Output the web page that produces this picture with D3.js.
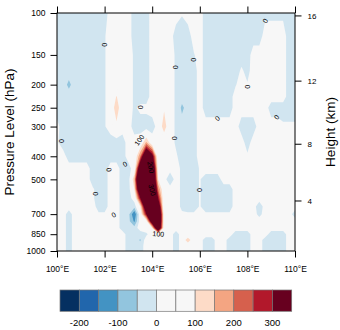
<!DOCTYPE html>
<html>
<head>
<meta charset="utf-8">
<script src="https://cdn.jsdelivr.net/npm/d3@7"></script>
<style>
  html, body { margin: 0; padding: 0; background: #fff; }
  svg { display: block; font-family: "Liberation Sans", Arial, Helvetica, sans-serif; }
</style>
</head>
<body>
<div id="chart"></div>
<script>
// pressure levels of the grid rows (top to bottom) and the longitude span of its columns
const levels = [100, 125, 150, 175, 200, 225, 250, 300, 350, 400, 450, 500, 550, 600, 650, 700, 750, 800, 850, 900, 950, 1000];
const lonStart = 100, lonEnd = 110; // 41 columns, 0.25 deg apart

// field values, one row per level
const field = [
  [-30,-30,-30,-30,-30,-30,-30,-30,-30, 30,30,30,30, -30,-30,-30, 30,30,30,30,30, 5, 30,30,30, -30,-30,-30,-30,-30,-30,-30,-30,-30,-30, -15,-15,-15,-15,-15, -30],
  [-30,-30,-30,-30,-30,-30,-30,-30, -5, 30,30,30,30, -30,-30,-30, 30,30,30,30, -30,-30,-30, 30,30, -30,-30,-30,-30,-30,-30,-30,-30,-30,-30, 30,30,30,30, -30,-30],
  [-30,-30,-30,-30,-30,-30,-30,-30, -5, 30,30,30,30, -10,-30,-30, 30,30,30,30, -10,-30,-30, -5, 30, -30,-30,-30,-30,-30,-30,-30,-30, 30,30,30,30,30,30, -30,-30],
  [-30,-30,-30,-30,-30,-30,-30,-30, -5, 30,30,30,30, -10,-30,-30, 30,30,30,30, -10,-30,-30,-30, 30, -30,-30,-30,-30,-30,-30, 10, -20, 30,30,30,30,30,30, -30,-30],
  [-30,-30, -60, -30,-30,-30,-30,-30, -5, 30,30,30,30, -10,-30,-30, 30,30,30,30, -10,-30,-30,-30, 30, -30,-30,-30,-30,-30, -5, 30, 5, 30,30,30,30,30,30, -30,-30],
  [-30,-30,-30,-30,-30,-30,-30,-30, -5, 30, 105, 30,30, -10,-30,-30, 30,30,30,30, -10,-30,-30,-30, 30, -30,-30,-30,-30,-30, 30,30,30,30,30,30,30,30,30, -30,-30],
  [-30,-30,-30,-30,-30,-30,-30,-30, -5, 30, 150, 30,30, -10, 15,15, 30,30, 90, 30, -10, -60, -30,-30, 30, -30,-30,-30,-30,-30, 30,30,30,30,30,30, -30,-30,-30,-30,-30],
  [20, -30,-30,-30,-30,-30,-30,-30, -5, 30, 80, 30,30, -30,-30,-30,-30, 30, 140, 30, -10,-30,-30,-30, 30, 30,30,30,30,30,30, -30,-30,-30, 30,30,30,30, 10,10,10],
  [10, -30,-30,-30,-30,-30,-30,-30,-30,-30,-30,-30, 30,30, 40, 160, 40, 30,30,30, -10,-30,-30,-30, 30,30,30,30,30,30,30,30, -30, 30,30,30,30,30,30,30,30],
  [30,30, -30,-30,-30,-30,-30,-30,-30,-30,-30,-30, 30,30, 200, 500, 350, 30,30,30, 10, -30,-30,-30, 30,30,30,30,30,30,30,30, 10, 30,30,30,30,30,30,30,30],
  [30,30,30,30,30,30, -30,-30,-30, 30,30, -30,-30, 40, 450, 550, 500, 60, 30,30,30, -15,-30,-30, 5, 30,30,30,30,30,30,30,30,30,30,30,30,30,30,30,30],
  [30,30,30,30,30,30, -30,-30,-30, 30,30, -30,-30, 150, 600, 600, 550, 100, 30, -50, 30, -15,-30,-30, 5, -30,-30,-30, 30,30,30,30,30,30,30,30,30,30,30,30,30],
  [30,30,30,30,30,30, 10, -30,-30, 30,30, -30,-30, 100, 500, 600, 600, 200, 30,30,30, -15,-30,-30, 5, -30,-30,-30,-30,-30, 30,30,30,30,30,30,30,30,30,30,30],
  [30,30,30,30,30,30, 10, -30,-30, 30,30, -30,-30, 30, 300, 600, 600, 300, 30,30,30, -15,-30,-30, 5, -30,-30,-30,-30,-30, 30,30,30,30,30,30,30,30,30,30,30],
  [30,30,30,30,30,30,30, -30,-30, 30,30, -30,-30,-30, 100, 450, 600, 450, 10, 30,30, -15,-30,-30, 5, -30,-30,-30,-30,-30, 30,30,30,30, -40, 30,30,30,30,30,30],
  [30,30, -30, 30,30,30,30, 10,10, 30,30, -30,-30, -150, 40, 300, 600, 550, 50, 30,30, 10,10,10, 30, 10,10,10,10,10, 30,30,30,30, -20, 30,30,30,30,30, -30],
  [30,30, -30, 30,30,30,30,30,30,30,30, -30,-30, -110, 30, 60, 420, 550, 50, 30,30,30,30,30,30,30,30,30,30,30,30,30,30,30,30,30,30,30,30,30,30],
  [30,30, -30, 30,30,30,30,30,30,30,30, -30,-30,-30, 30,30, 100, 500, 40, 30,30,30,30,30,30,30,30,30,30,30,30,30,30,30,30,30,30,30,30,30,30],
  [30,30, -30, 30,30,30,30,30,30,30,30,30, -30,-30,-30, -10, 30, 60, 30,30, -30, 30,30,30,30,30,30,30,30,30, -30,-30,-30, 30,30,30, -30,-30,-30, 30,30],
  [30,30, -30, 30,30,30,30,30,30,30,30,30, -30,-30, -55, 30,30,30,30,30, -30, 30, 150, 30,30, -30,-30, 30,30, -30,-30,-30,-30, 30,30, -30,-30,-30,-30, 30,30],
  [30,30, -30, 30,30,30,30,30,30,30,30,30, -30,-30,-30, 30,30,30,30,30, -30, 30,30,30,30, -30,-30, 30,30, -30,-30,-30,-30, 30,30, -30,-30,-30,-30, 30,30],
  [30,30, -30, 30,30,30,30,30,30,30,30,30, -30,-30,-30, 30,30,30,30,30, -30, 30,30,30,30, -30,-30, 30,30, -30,-30,-30,-30, 30,30, -30,-30,-30,-30, 30,30]
];

const thresholds = [-200, -150, -100, -50, 0, 50, 100, 150, 200, 250, 300];
const colors = ["#053061", "#2166ac", "#4393c3", "#92c5de", "#d1e5f0", "#f7f7f7",
                "#f7f7f7", "#fddbc7", "#f4a582", "#d6604d", "#b2182b", "#67001f"];

const pTicks = [1000, 850, 700, 500, 400, 300, 250, 200, 150, 100];
const lonTicks = [100, 102, 104, 106, 108, 110];
const heightTicks = [4, 8, 12, 16];
const cbLabels = [-200, -100, 0, 100, 200, 300];

// contour line labels: lon, pressure, text, angle
const lineLabels = [
  [101.99, 136, "0", 90], [104.99, 169, "0", 90], [105.74, 157, "0", 90],
  [108.75, 108, "0", -60], [107.99, 204, "0", 90], [106.74, 277, "0", -45],
  [109.23, 274, "0", -50], [103.49, 249, "0", 90], [100.2, 345, "0", 90],
  [102.18, 456, "0", 80], [102.86, 432, "0", -30], [101.63, 574, "0", 90],
  [102.38, 706, "0", -30], [104.93, 336, "0", 90], [105.98, 554, "0", 90],
  [103.46, 342, "100", -55], [103.94, 445, "200", 80], [104.0, 554, "300", 75],
  [104.26, 848, "100", 5]
];

const W = 340, H = 330;
const x = d3.scaleLinear().domain([100, 110]).range([57, 295]);
const y = d3.scaleLog().domain([100, 1000]).range([13, 251]);

const svg = d3.select("#chart").append("svg").attr("width", W).attr("height", H);

// standard atmosphere, km -> hPa
function heightToP(h) {
  if (h <= 11) return 1013.25 * Math.pow(1 - 0.0065 * h * 1000 / 288.15, 5.25588);
  return 226.32 * Math.exp(-(h - 11) * 1000 / 6341.6);
}

// --- filled contours ---
const nx = field[0].length, ny = field.length;
const colX = d3.scaleLinear().domain([0, nx - 1]).range([x(lonStart), x(lonEnd)]).clamp(true);
const rowY = d3.scaleLinear().domain(d3.range(ny)).range(levels.map(p => y(p))).clamp(true);

const path = d3.geoPath(d3.geoTransform({
  point(cx, cy) { this.stream.point(colX(cx - 0.5), rowY(cy - 0.5)); }
}));

const bands = d3.contours().size([nx, ny]).thresholds(thresholds)(field.flat());

svg.append("defs").append("clipPath").attr("id", "clip")
  .append("rect").attr("x", 57).attr("y", 13).attr("width", 238).attr("height", 238);

const plot = svg.append("g").attr("clip-path", "url(#clip)");
plot.append("rect").attr("x", 57).attr("y", 13).attr("width", 238).attr("height", 238)
  .attr("fill", colors[0]);
plot.selectAll("path.band")
  .data(bands).join("path")
  .attr("class", "band")
  .attr("d", path)
  .attr("fill", (d, i) => colors[i + 1]);

// contour labels
svg.append("g").selectAll("text")
  .data(lineLabels).join("text")
  .attr("transform", d => `translate(${x(d[0])},${y(d[1])}) rotate(${d[3]})`)
  .attr("text-anchor", "middle")
  .attr("dy", "0.35em")
  .style("font-size", "7px")
  .attr("fill", "#000")
  .text(d => d[2]);

// frame
svg.append("rect").attr("x", 57).attr("y", 13).attr("width", 238).attr("height", 238)
  .attr("fill", "none").attr("stroke", "#000").attr("stroke-width", 1);

// axes
const axLeft = svg.append("g").attr("transform", "translate(57,0)")
  .call(d3.axisLeft(y).tickValues(pTicks).tickFormat(d3.format("d")).tickSize(6.5).tickPadding(5));
const axBottom = svg.append("g").attr("transform", "translate(0,251)")
  .call(d3.axisBottom(x).tickValues(lonTicks).tickFormat(d => d + "°E").tickSize(6.5).tickPadding(8));
const axTop = svg.append("g").attr("transform", "translate(0,13)")
  .call(d3.axisTop(x).tickValues(lonTicks).tickFormat("").tickSize(6.5));
[axLeft, axBottom, axTop].forEach(g => {
  g.select(".domain").remove();
  g.selectAll("text").style("font-size", "8.5px").attr("fill", "#000");
  g.selectAll("line").attr("stroke", "#000");
});

// right height axis
const axRight = svg.append("g");
axRight.selectAll("line").data(heightTicks).join("line")
  .attr("x1", 295).attr("x2", 301.5)
  .attr("y1", d => y(heightToP(d))).attr("y2", d => y(heightToP(d)))
  .attr("stroke", "#000");
axRight.selectAll("text").data(heightTicks).join("text")
  .attr("x", 307.5).attr("y", d => y(heightToP(d))).attr("dy", "0.35em")
  .style("font-size", "8px").text(d => d);

// axis titles
svg.append("text").attr("transform", "translate(14,132) rotate(-90)")
  .attr("text-anchor", "middle").style("font-size", "13.5px").text("Pressure Level (hPa)");
svg.append("text").attr("transform", "translate(335,132) rotate(-90)")
  .attr("text-anchor", "middle").style("font-size", "13.5px").text("Height (km)");

// colorbar
const cbX = d3.scaleLinear().domain([0, colors.length]).range([60, 291.7]);
const cb = svg.append("g");
cb.selectAll("rect").data(colors).join("rect")
  .attr("x", (d, i) => cbX(i)).attr("y", 290)
  .attr("width", cbX(1) - cbX(0)).attr("height", 21.3)
  .attr("fill", d => d).attr("stroke", "#777").attr("stroke-width", 0.7);
cb.selectAll("text").data(cbLabels).join("text")
  .attr("x", d => cbX(thresholds.indexOf(d) + 1)).attr("y", 326)
  .attr("text-anchor", "middle").style("font-size", "9.5px").text(d => d);
</script>
</body>
</html>
